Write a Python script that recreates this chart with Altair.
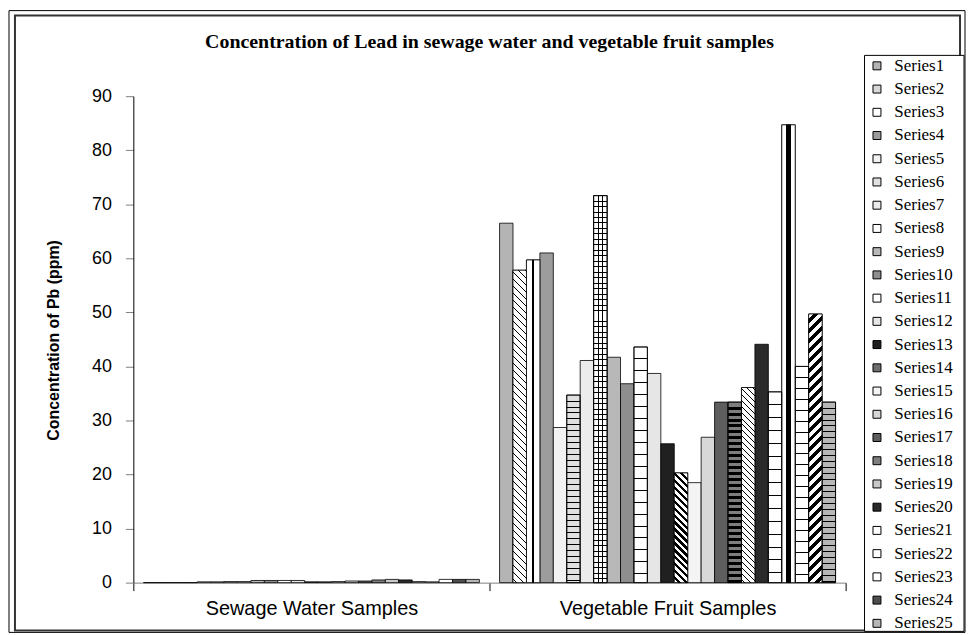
import altair as alt
import pandas as pd

categories = ["Sewage Water Samples", "Vegetable Fruit Samples"]
series_names = [f"Series{i}" for i in range(1, 26)]

sewage_values = [0, 0, 0, 0, 0.15, 0.15, 0.2, 0.2, 0.4, 0.4, 0.4, 0.4, 0.15,
                 0.15, 0.2, 0.3, 0.3, 0.5, 0.6, 0.5, 0.2, 0.15, 0.6, 0.6, 0.6]
vegetable_values = [66.5, 57.8, 59.7, 61.0, 28.7, 34.7, 41.1, 71.6, 41.7, 36.8,
                    43.6, 38.7, 25.7, 20.3, 18.5, 26.9, 33.4, 33.4, 36.1, 44.1,
                    35.3, 84.7, 40.0, 49.7, 33.4]

# approximate average tone of each series' hatch pattern (used for legend swatches)
series_fills = ["#b4b4b4", "#d8d8d8", "#ffffff", "#9c9c9c", "#f2f2f2",
                "#e0e0e0", "#ececec", "#ffffff", "#b8b8b8", "#8e8e8e",
                "#ffffff", "#e6e6e6", "#202020", "#6e6e6e", "#f4f4f4",
                "#d8d8d8", "#5e5e5e", "#7e7e7e", "#c8c8c8", "#2a2a2a",
                "#ffffff", "#ffffff", "#ffffff", "#4e4e4e", "#b6b6b6"]

# hatch patterns drawn as striped gradients
vertical_patterns = {          # ink bands as fractions of bar width
    "Series3": [(0.44, 0.56)],
    "Series8": [(0.31, 0.38), (0.62, 0.69)],
    "Series22": [(0.28, 0.72)],
}
horizontal_patterns = {        # (line spacing, line thickness) in pixels
    "Series6": (6.0, 1.0),
    "Series8": (5.5, 1.0),
    "Series11": (12.0, 1.0),
    "Series18": (6.0, 3.0),
    "Series21": (13.0, 1.0),
    "Series23": (11.0, 1.0),
    "Series25": (6.0, 1.0),
}
diagonal_patterns = {          # (direction, period, ink thickness) in pixels
    "Series2": ("\\", 7.0, 1.0),
    "Series14": ("\\", 7.0, 3.2),
    "Series19": ("\\", 6.0, 1.0),
    "Series24": ("/", 10.0, 5.0),
}

PLOT_W, PLOT_H, Y_MAX = 716, 489, 90
BAR_W = PLOT_W / 2 / 26.5

rows = []
for cat, vals in zip(categories, [sewage_values, vegetable_values]):
    for s, v in zip(series_names, vals):
        rows.append({"category": cat, "series": s, "value": v})
df = pd.DataFrame(rows)

x_enc = alt.X("category:N", sort=categories,
              scale=alt.Scale(paddingInner=0, paddingOuter=0),
              axis=alt.Axis(title=None, labelAngle=0, domainColor="#808080",
                            tickColor="black", tickSize=8, tickBand="extent",
                            labelFont="Liberation Sans", labelFontSize=20,
                            labelColor="black", labelPadding=8, labelLimit=400))
xo_enc = alt.XOffset("series:N", sort=series_names,
                     scale=alt.Scale(domain=series_names, paddingInner=0, paddingOuter=0.75))
y_enc = alt.Y("value:Q", scale=alt.Scale(domain=[0, Y_MAX]),
              axis=alt.Axis(values=list(range(0, 91, 10)), grid=False,
                            domainColor="black", tickColor="#808080", tickSize=8,
                            labelFont="Liberation Sans", labelFontSize=18,
                            labelColor="black", labelPadding=14,
                            title="Concentration of Pb (ppm)",
                            titleFont="Liberation Sans", titleFontSize=16,
                            titleFontWeight="bold", titleColor="black",
                            titleX=-80, titleY=245, titleAngle=270,
                            titleBaseline="middle", titleAlign="center"))

frame_df = pd.DataFrame({"k": [0]})

outer = alt.Chart(frame_df).mark_rect(fillOpacity=0, stroke="black", strokeWidth=1).encode(
    x=alt.value(-125), x2=alt.value(836), y=alt.value(-86), y2=alt.value(539)
)
inner = alt.Chart(frame_df).mark_rect(fillOpacity=0, stroke="#333333", strokeWidth=2).encode(
    x=alt.value(-119), x2=alt.value(831), y=alt.value(-81), y2=alt.value(537)
)
legend_box = alt.Chart(frame_df).mark_rect(fill="white", stroke="black", strokeWidth=1).encode(
    x=alt.value(735), x2=alt.value(835), y=alt.value(-41), y2=alt.value(538)
)

bars = alt.Chart(df).mark_bar(stroke="black", strokeWidth=0.8).encode(
    x=x_enc, xOffset=xo_enc, y=y_enc,
    fill=alt.Fill("series:N", sort=series_names,
                  scale=alt.Scale(domain=series_names, range=series_fills),
                  legend=alt.Legend(title=None, orient="none", legendX=739, legendY=-39,
                                    symbolType="square", symbolSize=64,
                                    symbolStrokeColor="black", symbolStrokeWidth=1,
                                    symbolOpacity=1,
                                    labelFont="Liberation Serif", labelFontSize=17,
                                    labelColor="black", rowPadding=5.35,
                                    labelOffset=9, padding=0)),
)


def band_stops(bands, bg, ink):
    stops = [alt.GradientStop(offset=0, color=bg)]
    for a, b in bands:
        a = max(0.0, min(1.0, a))
        b = max(0.0, min(1.0, b))
        stops += [alt.GradientStop(offset=a, color=bg), alt.GradientStop(offset=a, color=ink),
                  alt.GradientStop(offset=b, color=ink), alt.GradientStop(offset=b, color=bg)]
    stops.append(alt.GradientStop(offset=1, color=bg))
    return stops


def vertical_gradient(bands, bg="#ffffff", ink="#000000"):
    return alt.LinearGradient(gradient="linear", stops=band_stops(bands, bg, ink),
                              x1=0, x2=1, y1=0, y2=0)


def horizontal_gradient(bar_px, spacing, thick, bg="rgba(255,255,255,0)", ink="#000000"):
    t = thick / bar_px
    bands = []
    k = 1
    while k * spacing < bar_px - 1:
        p = k * spacing / bar_px
        bands.append((p - t / 2, p + t / 2))
        k += 1
    return alt.LinearGradient(gradient="linear", stops=band_stops(bands, bg, ink),
                              x1=0, x2=0, y1=0, y2=1)


def diagonal_gradient(bar_px, direction, period, thick, bg="#ffffff", ink="#000000"):
    w, h = BAR_W, bar_px
    scale = w / (w * w + h * h)      # gradient units per pixel of (x +/- y)
    total = w + h
    bands = []
    d = period / 2
    while d < total:
        bands.append((d * scale, (d + thick) * scale))
        d += period
    if direction == "/":
        return alt.LinearGradient(gradient="linear", stops=band_stops(bands, bg, ink),
                                  x1=0, y1=0, x2=1, y2=h / w)
    return alt.LinearGradient(gradient="linear", stops=band_stops(bands, bg, ink),
                              x1=0, y1=1, x2=1, y2=1 - h / w)


def veg_px(s):
    return vegetable_values[series_names.index(s)] / Y_MAX * PLOT_H


def overlay(s, gradient):
    return (alt.Chart(df)
            .transform_filter((alt.datum.series == s) & (alt.datum.category == categories[1]))
            .mark_bar(fill=gradient, stroke="black", strokeWidth=0.8)
            .encode(x=x_enc, xOffset=xo_enc, y=y_enc))


overlays = []
for s, bands in vertical_patterns.items():
    overlays.append(overlay(s, vertical_gradient(bands)))
for s, (direction, period, thick) in diagonal_patterns.items():
    overlays.append(overlay(s, diagonal_gradient(veg_px(s), direction, period, thick)))
for s, (spacing, thick) in horizontal_patterns.items():
    overlays.append(overlay(s, horizontal_gradient(veg_px(s), spacing, thick)))

chart = alt.layer(outer, inner, legend_box, bars, *overlays).properties(
    width=PLOT_W,
    height=PLOT_H,
    padding=0,
    title=alt.Title("Concentration of Lead in sewage water and vegetable fruit samples",
                    font="Liberation Serif", fontSize=20, fontWeight="bold",
                    anchor="middle", frame="group", offset=-42, color="black"),
).configure_view(strokeWidth=0)

chart.save("out.html", embed_options={"renderer": "svg", "actions": False})
